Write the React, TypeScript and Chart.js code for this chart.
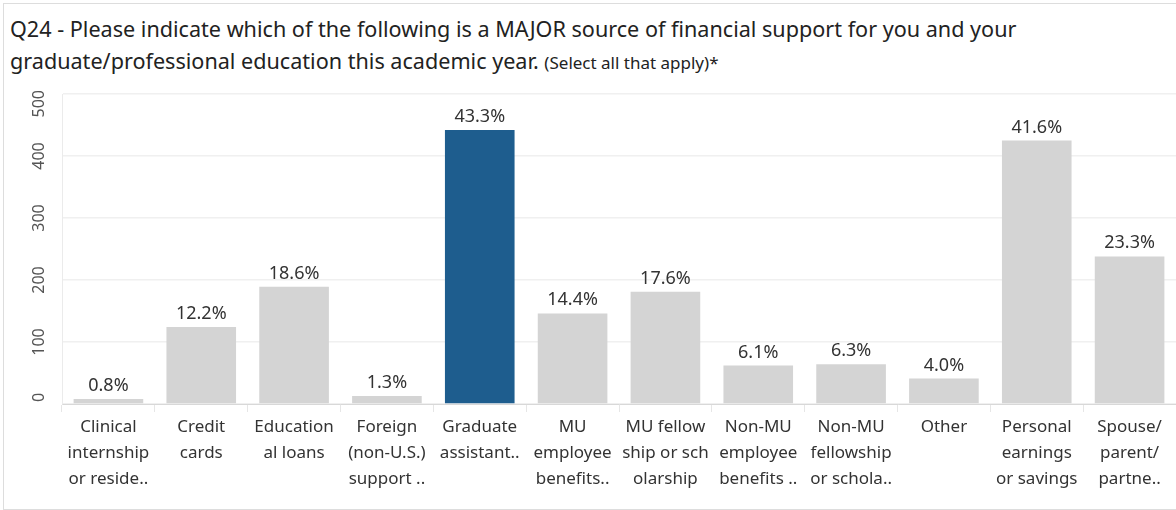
import React, { useEffect, useRef } from "react";
import { Chart, registerables } from "chart.js";

Chart.register(...registerables);

const categories: string[][] = [
  ["Clinical", "internship", "or reside.."],
  ["Credit", "cards"],
  ["Education", "al loans"],
  ["Foreign", "(non-U.S.)", "support .."],
  ["Graduate", "assistant.."],
  ["MU", "employee", "benefits.."],
  ["MU fellow", "ship or sch", "olarship"],
  ["Non-MU", "employee", "benefits .."],
  ["Non-MU", "fellowship", "or schola.."],
  ["Other"],
  ["Personal", "earnings", "or savings"],
  ["Spouse/", "parent/", "partne.."],
];

const counts: number[] = [8, 124, 189, 13, 442, 146, 181, 62, 64, 41, 425, 238];

const percentLabels: string[] = [
  "0.8%", "12.2%", "18.6%", "1.3%", "43.3%", "14.4%",
  "17.6%", "6.1%", "6.3%", "4.0%", "41.6%", "23.3%",
];

const highlightedCategory = "Graduate";
const yMin = 0;
const yMax = 500;
const yStep = 100;

const titleLine1 =
  "Q24 - Please indicate which of the following is a MAJOR source of financial support for you and your";
const titleLine2 = "graduate/professional education this academic year.";
const titleNote = "(Select all that apply)*";

const FONT = '"Noto Sans", "Open Sans", sans-serif';
const BLUE = "#1e5d8e";
const GREY = "#d4d4d4";

const valueLabelPlugin = {
  id: "valueLabels",
  afterDatasetsDraw(chart: any) {
    const ctx = chart.ctx;
    const meta = chart.getDatasetMeta(0);
    ctx.save();
    ctx.font = `18px ${FONT}`;
    ctx.fillStyle = "#333333";
    ctx.textAlign = "center";
    ctx.textBaseline = "alphabetic";
    meta.data.forEach((bar: any, i: number) => {
      ctx.fillText(percentLabels[i], bar.x, bar.y - 8);
    });
    ctx.restore();
  },
};

// Rotated y tick labels, kept inside the axis range like the original.
const yLabelPlugin = {
  id: "yLabels",
  afterDraw(chart: any) {
    const scale = chart.scales.y;
    const ctx = chart.ctx;
    ctx.save();
    ctx.font = `16px ${FONT}`;
    ctx.fillStyle = "#555555";
    ctx.textAlign = "center";
    ctx.textBaseline = "middle";
    scale.ticks.forEach((t: any) => {
      const label = String(t.value);
      const w = ctx.measureText(label).width;
      let y = scale.getPixelForValue(t.value);
      const minY = scale.top - 4 + w / 2;
      const maxY = scale.bottom - 2 - w / 2;
      y = Math.min(Math.max(y, minY), maxY);
      ctx.save();
      ctx.translate(39, y);
      ctx.rotate(-Math.PI / 2);
      ctx.fillText(label, 0, 0);
      ctx.restore();
    });
    ctx.restore();
  },
};

export default function App() {
  const canvasRef = useRef<HTMLCanvasElement | null>(null);

  useEffect(() => {
    if (!canvasRef.current) return;
    const colors = categories.map((c) => (c[0] === highlightedCategory ? BLUE : GREY));
    const chart = new Chart(canvasRef.current, {
      type: "bar",
      data: {
        labels: categories,
        datasets: [
          {
            data: counts,
            backgroundColor: colors,
            hoverBackgroundColor: colors,
            barPercentage: 0.75,
            categoryPercentage: 1,
          },
        ],
      },
      options: {
        animation: false,
        responsive: false,
        maintainAspectRatio: false,
        layout: { padding: { top: 9, left: 0, right: 0, bottom: 0 } },
        plugins: {
          legend: { display: false },
          tooltip: { enabled: false },
        },
        scales: {
          x: {
            grid: {
              drawOnChartArea: false,
              drawTicks: true,
              tickLength: 8,
              color: "#e6e6e6",
              offset: true,
            },
            border: { display: true, color: "#d8d8d8", dash: [2, 2] },
            ticks: {
              autoSkip: false,
              maxRotation: 0,
              minRotation: 0,
              padding: 2,
              color: "#333333",
              font: { family: FONT, size: 17, lineHeight: 26 / 17 },
            },
            afterFit: (s: any) => {
              s.height = 106;
              s.paddingLeft = 0;
              s.paddingRight = 0;
            },
          },
          y: {
            min: yMin,
            max: yMax,
            ticks: {
              stepSize: yStep,
              display: false,
            },
            grid: { color: "#f0f0f0", lineWidth: 1.5, drawTicks: false },
            border: { display: true, color: "#ebebeb" },
            afterFit: (s: any) => {
              s.width = 62;
              s.paddingTop = 0;
              s.paddingBottom = 0;
            },
          },
        },
      },
      plugins: [valueLabelPlugin, yLabelPlugin],
    } as any);
    return () => chart.destroy();
  }, []);

  return (
    <div
      style={{
        position: "absolute",
        left: 0,
        top: 0,
        width: 1176,
        height: 510,
        background: "#ffffff",
        overflow: "hidden",
        fontFamily: FONT,
      }}
    >
      <div
        style={{
          position: "absolute",
          left: 3,
          top: 3,
          width: 1173,
          height: 82,
          boxSizing: "border-box",
          borderTop: "1px solid #dddddd",
          borderLeft: "1px solid #dddddd",
          padding: "9px 0 0 6px",
          color: "#222222",
          fontSize: 21.6,
          lineHeight: "32px",
          whiteSpace: "nowrap",
        }}
      >
        <div>{titleLine1}</div>
        <div>
          {titleLine2} <span style={{ fontSize: 17 }}>{titleNote}</span>
        </div>
      </div>
      <div
        style={{
          position: "absolute",
          left: 3,
          top: 85,
          width: 1173,
          height: 425,
          boxSizing: "border-box",
          borderLeft: "1px solid #dddddd",
          borderBottom: "1px solid #dddddd",
        }}
      />
      <canvas
        ref={canvasRef}
        width={1176}
        height={425}
        style={{ position: "absolute", left: 0, top: 85, width: 1176, height: 425, display: "block" }}
      />
    </div>
  );
}
